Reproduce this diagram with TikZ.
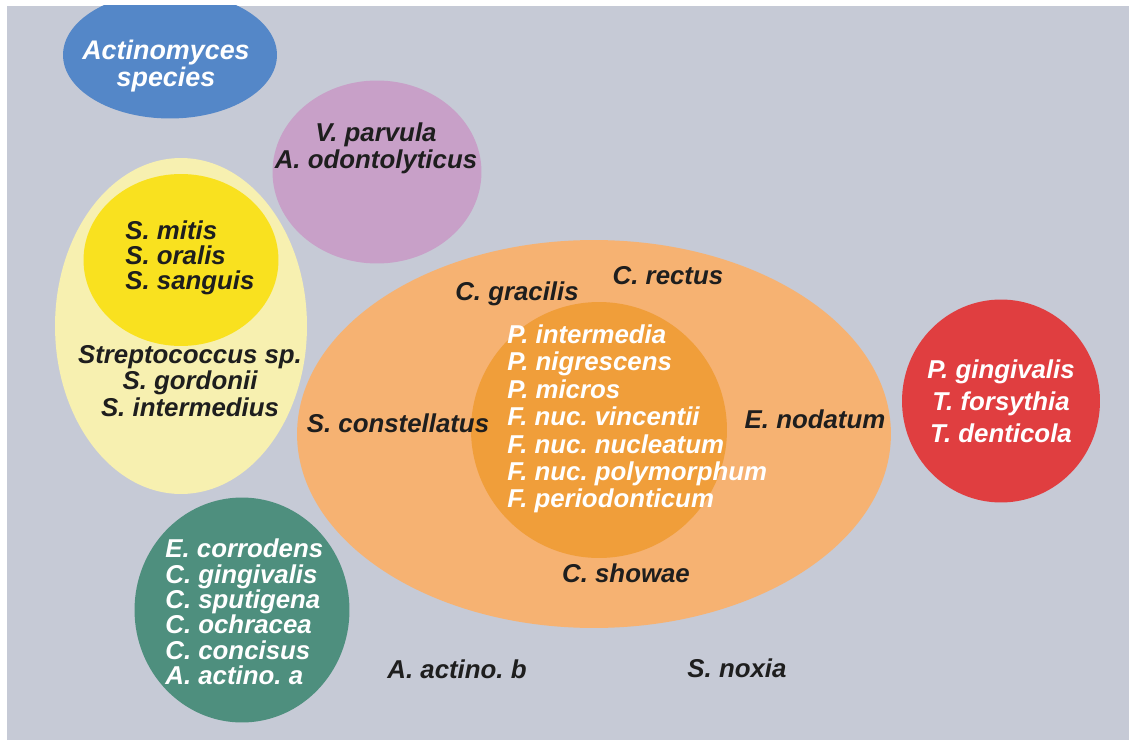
\documentclass[tikz,border=0pt]{standalone}
\usepackage{fontspec}
\setsansfont{Liberation Sans}
\usetikzlibrary{positioning}
\frenchspacing
\definecolor{bggray}{HTML}{C6CAD6}
\definecolor{actblue}{HTML}{5487C8}
\definecolor{purplec}{HTML}{C8A0C8}
\definecolor{paleyellow}{HTML}{F7F0B0}
\definecolor{yellowc}{HTML}{F9E11F}
\definecolor{orangec}{HTML}{F6B272}
\definecolor{darkorange}{HTML}{F09E3A}
\definecolor{redc}{HTML}{E03E40}
\definecolor{greenc}{HTML}{4E8F7E}
\definecolor{inkblack}{HTML}{1E1E1E}
\tikzset{
    species/.style={font=\sffamily\bfseries\itshape\fontsize{14.7}{15.2}\selectfont,
        text=inkblack,inner sep=0pt,align=center},
    lightspecies/.style={species,text=white},
}

\begin{document}
\begin{tikzpicture}[x=0.02cm,y=-0.02cm]
    \useasboundingbox (0,0) rectangle (1129,740);
    \fill[bggray] (7,6) rectangle (1129,740);

    % complexes
    \begin{scope}
        \clip (7,6) rectangle (1129,740);
        \fill[actblue] (170,55) ellipse [x radius=2.14cm,y radius=1.27cm];
    \end{scope}
    \fill[purplec] (377,172) ellipse [x radius=2.09cm,y radius=1.83cm];
    \fill[paleyellow] (181,326) ellipse [x radius=2.52cm,y radius=3.36cm];
    \fill[yellowc] (181,260) ellipse [x radius=1.95cm,y radius=1.72cm];
    \fill[orangec] (594,434) ellipse [x radius=5.94cm,y radius=3.88cm];
    \fill[darkorange] (599,430) ellipse [x radius=2.56cm,y radius=2.56cm];
    \fill[redc] (1001,401) ellipse [x radius=1.98cm,y radius=2.03cm];
    \fill[greenc] (242,610) ellipse [x radius=2.15cm,y radius=2.25cm];

    % labels
    \node[lightspecies,font=\sffamily\bfseries\itshape\fontsize{15.3}{15.3}\selectfont] (actino) at (166,66) {Actinomyces\\species};
    \node[species] (purple) at (376,148) {V. parvula\\A. odontolyticus};
    \node[species,align=left,anchor=west,font=\sffamily\bfseries\itshape\fontsize{14.7}{14.2}\selectfont] (yellow) at (125,258) {S. mitis\\S. oralis\\S. sanguis};
    \node[species] (strep) at (190,381) {Streptococcus sp.\\S. gordonii\\S. intermedius};
    \node[species] (gracilis) at (517,294) {C. gracilis};
    \node[species] (rectus) at (668,276) {C. rectus};
    \node[species] (constell) at (398,423) {S. constellatus};
    \node[species] (nodatum) at (815,419) {E. nodatum};
    \node[species] (showae) at (626,573) {C. showae};
    \node[lightspecies,align=left,anchor=west,font=\sffamily\bfseries\itshape\fontsize{14.7}{15.6}\selectfont] (orange) at (507,419)
        {P. intermedia\\P. nigrescens\\P. micros\\F. nuc. vincentii\\F. nuc. nucleatum\\F. nuc. polymorphum\\F. periodonticum};
    \node[lightspecies,font=\sffamily\bfseries\itshape\fontsize{14.7}{18.1}\selectfont] (red) at (1001,401)
        {P. gingivalis\\T. forsythia\\T. denticola};
    \node[lightspecies,align=left,anchor=west,font=\sffamily\bfseries\itshape\fontsize{14.7}{14.5}\selectfont] (green) at (165,612)
        {E. corrodens\\C. gingivalis\\C. sputigena\\C. ochracea\\C. concisus\\A. actino. a};
    \node[species] (actinob) at (457,669) {A. actino. b};
    \node[species] (noxia) at (737,668) {S. noxia};
\end{tikzpicture}
\end{document}
